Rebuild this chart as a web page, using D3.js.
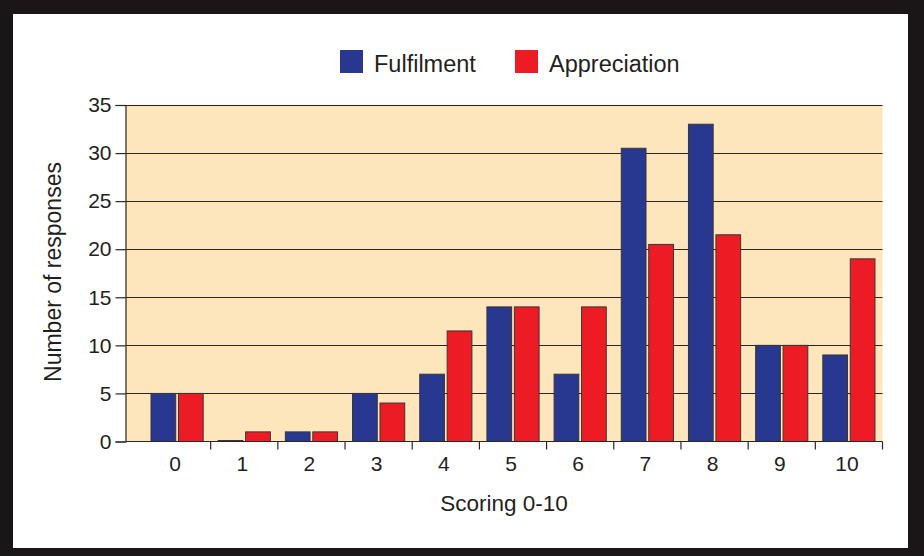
<!DOCTYPE html>
<html>
<head>
<meta charset="utf-8">
<script src="https://cdn.jsdelivr.net/npm/d3@7/dist/d3.min.js"></script>
<style>
  html, body { margin: 0; padding: 0; background: #1a1516; }
  svg { display: block; }
  text { font-family: "Liberation Sans", Arial, sans-serif; fill: #231f20; }
</style>
</head>
<body>
<svg id="chart" width="924" height="556"></svg>
<script>
// Scores 0-10 and the number of responses per score
const categories = ["0", "1", "2", "3", "4", "5", "6", "7", "8", "9", "10"];
const seriesNames = ["Fulfilment", "Appreciation"];
const fulfilment = [5, 0, 1, 5, 7, 14, 7, 30.5, 33, 10, 9];
const appreciation = [5, 1, 1, 4, 11.5, 14, 14, 20.5, 21.5, 10, 19];
const yTicks = [0, 5, 10, 15, 20, 25, 30, 35];
const colors = ["#283891", "#ed1c24"];

const svg = d3.select("#chart");
const W = 924, H = 556;

// black frame with white panel
svg.append("rect").attr("width", W).attr("height", H).attr("fill", "#1a1516");
svg.append("rect").attr("x", 13).attr("y", 14).attr("width", 895).attr("height", 534).attr("fill", "#ffffff");

const plot = { left: 125.5, right: 882.5, top: 105, bottom: 441.5 };

const y = d3.scaleLinear().domain([0, 35]).range([plot.bottom, plot.top]);
const x = d3.scaleBand().domain(categories).range([143.5, plot.right]).paddingInner(0).paddingOuter(0);
const xSub = d3.scaleBand().domain(seriesNames).range([7.5, x.bandwidth() - 7.5]).paddingInner(0.1);

// plot background
svg.append("rect")
  .attr("x", plot.left).attr("y", plot.top)
  .attr("width", plot.right - plot.left).attr("height", plot.bottom - plot.top)
  .attr("fill", "#fde6bb");

// horizontal gridlines
svg.append("g").selectAll("line").data(yTicks.filter(d => d > 0)).join("line")
  .attr("x1", plot.left).attr("x2", plot.right)
  .attr("y1", d => Math.round(y(d)) + 0.5).attr("y2", d => Math.round(y(d)) + 0.5)
  .attr("stroke", "#2b2526").attr("stroke-width", 1.2);

// bars (a zero count still shows as a thin outlined sliver on the baseline)
const rows = categories.map((c, i) => ({ cat: c, values: [fulfilment[i], appreciation[i]] }));
const groups = svg.append("g").selectAll("g").data(rows).join("g")
  .attr("transform", d => `translate(${x(d.cat)},0)`);
groups.selectAll("rect").data(d => d.values.map((v, j) => ({ name: seriesNames[j], v, j }))).join("rect")
  .attr("x", d => xSub(d.name))
  .attr("width", xSub.bandwidth())
  .attr("y", d => Math.min(y(d.v), y(0) - 1))
  .attr("height", d => Math.max(y(0) - y(d.v), 1))
  .attr("fill", d => colors[d.j])
  .attr("stroke", "#3a3436").attr("stroke-width", 1);

// y axis
const yAxis = d3.axisLeft(y).tickValues(yTicks).tickSize(10).tickPadding(4);
const gy = svg.append("g").attr("transform", `translate(${plot.left},0)`).call(yAxis);
gy.select(".domain").attr("stroke", "#2b2526").attr("stroke-width", 1.2);
gy.selectAll(".tick line").attr("stroke", "#2b2526").attr("stroke-width", 1.2);
gy.selectAll(".tick text").attr("font-size", 21).attr("fill", "#231f20")
  .style("font-family", "'Liberation Sans', Arial, sans-serif");

// x axis: ticks at the boundaries between scores
const gx = svg.append("g").attr("transform", `translate(0,${plot.bottom})`);
gx.append("line").attr("x1", plot.left).attr("x2", plot.right)
  .attr("stroke", "#2b2526").attr("stroke-width", 1.2);
gx.selectAll("line.b").data(categories.slice(1).concat(["end"])).join("line").attr("class", "b")
  .attr("x1", d => d === "end" ? plot.right : x(d)).attr("x2", d => d === "end" ? plot.right : x(d))
  .attr("y1", 0).attr("y2", 8)
  .attr("stroke", "#2b2526").attr("stroke-width", 1.2);
gx.selectAll("text").data(categories).join("text")
  .attr("x", d => x(d) + x.bandwidth() / 2 - 2)
  .attr("y", 29)
  .attr("text-anchor", "middle")
  .attr("font-size", 21)
  .text(d => d);

// axis titles
svg.append("text")
  .attr("x", 504).attr("y", 511)
  .attr("text-anchor", "middle").attr("font-size", 22.5)
  .text("Scoring 0-10");
svg.append("text")
  .attr("transform", "translate(61,272) rotate(-90)")
  .attr("text-anchor", "middle").attr("font-size", 23)
  .text("Number of responses");

// legend
const legendX = [340, 515];
const legend = svg.append("g").selectAll("g").data(seriesNames).join("g")
  .attr("transform", (d, i) => `translate(${legendX[i]},50)`);
legend.append("rect").attr("width", 23).attr("height", 23).attr("fill", (d, i) => colors[i]);
legend.append("text").attr("x", 34).attr("y", 22).attr("font-size", 23.5).text(d => d);
</script>
</body>
</html>
